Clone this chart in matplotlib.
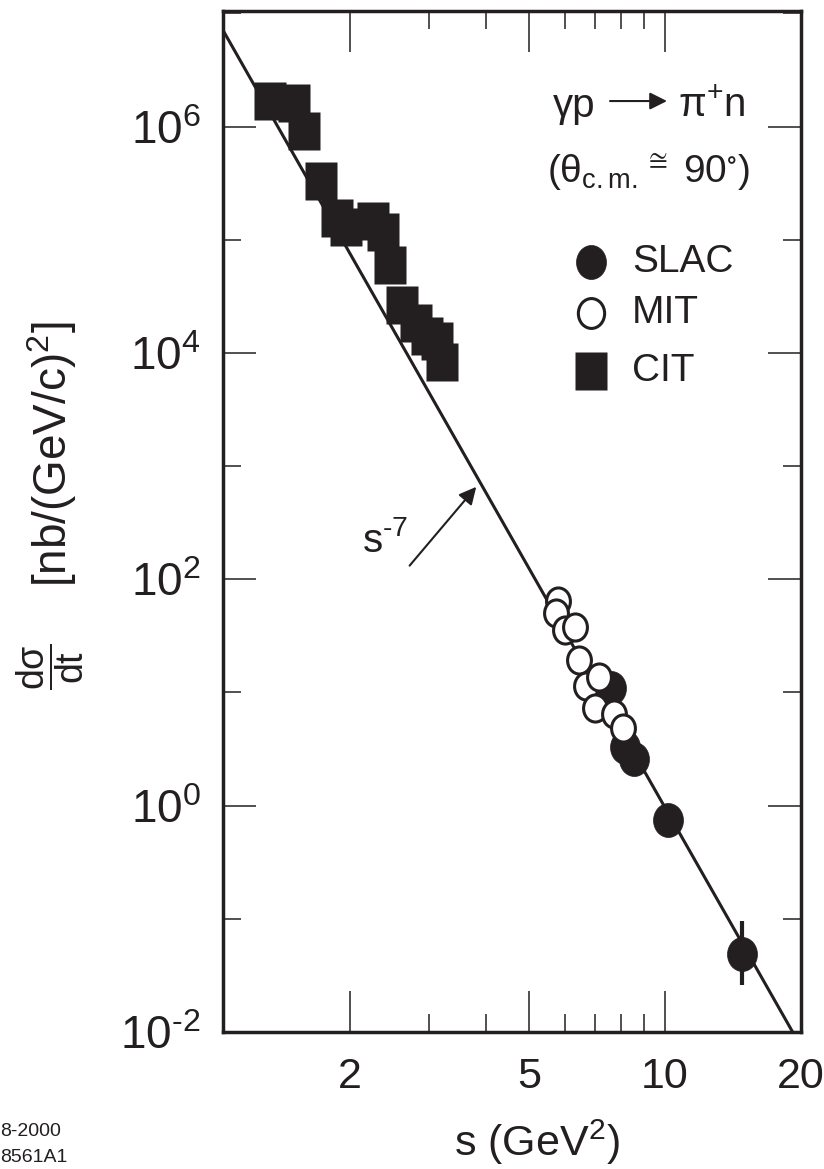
import numpy as np
import matplotlib
matplotlib.use("Agg")
import matplotlib.pyplot as plt
from matplotlib import font_manager
from matplotlib.path import Path
from matplotlib.ticker import FixedLocator, FixedFormatter, FuncFormatter, NullFormatter

# --- data ---
cit_s = [1.33, 1.50, 1.58, 1.72, 1.87, 1.96, 2.25, 2.36, 2.45, 2.61, 2.80, 2.96, 3.11, 3.19]
cit_dsdt = [1.69e6, 1.62e6, 9.2e5, 3.3e5, 1.57e5, 1.29e5, 1.46e5, 1.17e5,
            6.0e4, 2.66e4, 1.84e4, 1.41e4, 1.27e4, 8.3e3]

mit_s = [5.79, 5.72, 5.99, 6.30, 6.44, 6.66, 7.13, 6.98, 7.70, 8.06]
mit_dsdt = [64.0, 49.9, 35.6, 38.1, 19.5, 11.4, 13.6, 7.3, 6.4, 4.9]

slac_s = [7.60, 8.13, 8.55, 10.14, 14.85]
slac_dsdt = [11.0, 3.27, 2.58, 0.75, 0.049]
slac_err_lo = [0.0, 0.0, 0.0, 0.0, 0.023]
slac_err_hi = [0.0, 0.0, 0.0, 0.0, 0.047]

# s^-7 scaling line
FIT_NORM = 9.6e6
FIT_POWER = -7

x_major = [2, 5, 10, 20]
x_minor = [3, 4, 6, 7, 8, 9]
y_major = [1e-2, 1e0, 1e2, 1e4, 1e6]
y_minor = [1e-1, 1e1, 1e3, 1e5, 1e7]

INK = "#231f20"


def pick_font():
    for name in ["Liberation Sans Narrow", "Liberation Sans", "DejaVu Sans"]:
        try:
            font_manager.findfont(name, fallback_to_default=False)
            return name
        except ValueError:
            continue
    return "DejaVu Sans"


FONT = pick_font()
plt.rcParams.update(
    {
        "font.family": [FONT, "DejaVu Sans"],
        "mathtext.fontset": "custom",
        "mathtext.rm": FONT,
        "mathtext.it": FONT,
        "mathtext.sf": FONT,
        "mathtext.default": "regular",
        "axes.unicode_minus": False,
    }
)

# slightly tall markers, like in the scanned figure
_circ = Path.unit_circle()
ELLIPSE = Path(_circ.vertices * [0.88, 1.0], _circ.codes)
RECT = Path([(-0.84, -1), (0.84, -1), (0.84, 1), (-0.84, 1), (-0.84, -1)], closed=True)

SLAC_STYLE = dict(marker=ELLIPSE, ms=24.5, mfc=INK, mec=INK, mew=0.5, ls="none")
MIT_STYLE = dict(marker=ELLIPSE, ms=19.5, mfc="white", mec=INK, mew=2.2, ls="none")
CIT_STYLE = dict(marker=RECT, ms=27.4, mfc=INK, mec="none", ls="none")


def power_label(value, _pos):
    """10^n with a short hyphen for negative exponents, as in the original."""
    e = int(round(np.log10(value)))
    exp = r"\text{-}%d" % -e if e < 0 else "%d" % e
    return "10$^{%s}$" % exp


def main():
    fig = plt.figure(figsize=(8.24, 11.69), dpi=100)
    ax = fig.add_axes([0.2706, 0.1172, 0.7011, 0.8734])
    ax.set_xscale("log")
    ax.set_yscale("log")
    ax.set_xlim(1.044, 20)
    ax.set_ylim(1e-2, 1.05e7)

    # scaling line across the whole x range
    s_line = np.geomspace(1.044, 20, 200)
    ax.plot(s_line, FIT_NORM * s_line ** FIT_POWER, color=INK, lw=2.2, zorder=1)

    ax.plot(cit_s, cit_dsdt, zorder=3, **CIT_STYLE)
    ax.errorbar(slac_s, slac_dsdt, yerr=[slac_err_lo, slac_err_hi], ecolor=INK,
                elinewidth=3, capsize=0, zorder=3, **SLAC_STYLE)
    ax.plot(mit_s, mit_dsdt, zorder=4, **MIT_STYLE)

    # axes box and ticks
    for sp in ax.spines.values():
        sp.set_linewidth(2.5)
        sp.set_color(INK)
    ax.xaxis.set_major_locator(FixedLocator(x_major))
    ax.xaxis.set_minor_locator(FixedLocator(x_minor))
    ax.xaxis.set_major_formatter(FixedFormatter([str(v) for v in x_major]))
    ax.xaxis.set_minor_formatter(NullFormatter())
    ax.yaxis.set_major_locator(FixedLocator(y_major))
    ax.yaxis.set_minor_locator(FixedLocator(y_minor))
    ax.yaxis.set_major_formatter(FuncFormatter(power_label))
    ax.yaxis.set_minor_formatter(NullFormatter())

    ax.tick_params(which="both", direction="in", top=True, right=True, color=INK,
                   labelcolor=INK, width=1.1)
    ax.tick_params(axis="x", which="major", length=29.5, pad=18, labelsize=31)
    ax.tick_params(axis="x", which="minor", length=13)
    ax.tick_params(axis="y", which="major", length=24, pad=16, labelsize=33)
    ax.tick_params(axis="y", which="minor", length=13)

    # axis titles
    fig.text(0.651, 0.023, "s (GeV$^2$)", ha="center", va="center", fontsize=31, color=INK)
    fig.text(0.061, 0.4294, r"$\dfrac{d\sigma}{dt}$", rotation=90, ha="center",
             va="center", fontsize=27, color=INK)
    fig.text(0.063, 0.6116, "[nb/(GeV/c)$^2$]", rotation=90, ha="center",
             va="center", fontsize=33, color=INK)

    # reaction label
    ax.text(0.644, 0.896, "γp", transform=ax.transAxes, ha="right", va="baseline",
            fontsize=29, color=INK)
    ax.annotate("", xy=(0.7686, 0.9118), xytext=(0.670, 0.9118), xycoords="axes fraction",
                arrowprops=dict(arrowstyle="-|>", color=INK, lw=1.5, mutation_scale=26,
                                shrinkA=0, shrinkB=0))
    ax.text(0.788, 0.896, "π$^{+}$n", transform=ax.transAxes, ha="left", va="baseline",
            fontsize=29, color=INK)
    ax.text(0.737, 0.8315, r"(θ$_{c.m.}$$^{\cong}$ 90$^{\circ}$)", transform=ax.transAxes,
            ha="center", va="baseline", fontsize=28, color=INK)

    # legend, drawn by hand to sit where the original has it
    legend = [("SLAC", SLAC_STYLE, 0.7542), ("MIT", dict(MIT_STYLE, ms=21.5), 0.7042),
              ("CIT", CIT_STYLE, 0.6474)]
    for label, style, ypos in legend:
        ax.plot([0.637], [ypos], transform=ax.transAxes, clip_on=False, **style)
        ax.text(0.708, ypos, label, transform=ax.transAxes, ha="left", va="center",
                fontsize=28, color=INK)

    # s^-7 pointer
    ax.annotate("", xy=(3.81, 656), xytext=(2.71, 132),
                arrowprops=dict(arrowstyle="-|>", color=INK, lw=1.5, mutation_scale=26,
                                shrinkA=0, shrinkB=0))
    ax.text(2.39, 219, r"s$^{\text{-}7}$", ha="center", va="center", fontsize=29, color=INK)

    # figure id in the corner
    fig.text(0.0, 1 - 1132 / 1169, "8-2000", ha="left", va="center", fontsize=14, color=INK)
    fig.text(0.0, 1 - 1158 / 1169, "8561A1", ha="left", va="center", fontsize=14, color=INK)

    fig.savefig("out.png", dpi=100)
    plt.close(fig)


if __name__ == "__main__":
    main()
